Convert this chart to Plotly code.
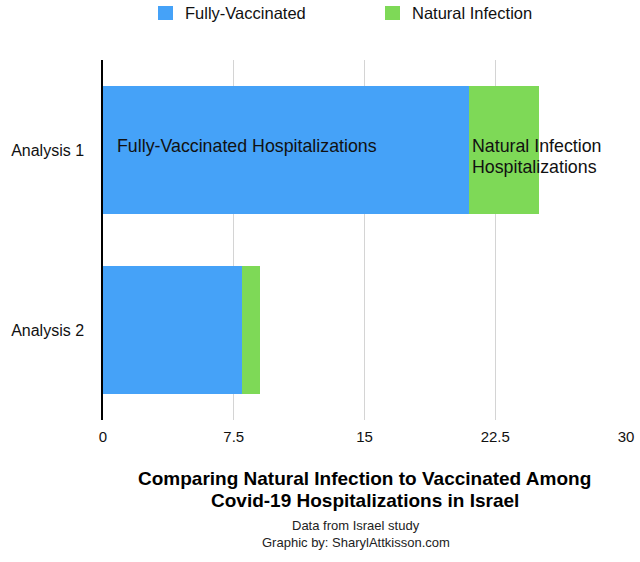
import plotly.graph_objects as go

categories = ["Analysis 1", "Analysis 2"]
fully_vaccinated = [21, 8]
natural_infection = [4, 1]
series_names = ["Fully-Vaccinated", "Natural Infection"]
tick_vals = [0, 7.5, 15, 22.5, 30]
tick_text = ["0", "7.5", "15", "22.5", "30"]

BLUE = "#45a2f8"
GREEN = "#7ed957"
FONT = "Liberation Sans, Arial, Helvetica, sans-serif"

# pixel layout helpers (plot area: x 103..626, y 60..420)
L, R, T, B, W, H = 103, 626, 60, 420, 640, 562
def px(x):
    return (x - L) / (R - L)
def py(y):
    return (B - y) / (B - T)

fig = go.Figure()
fig.add_trace(go.Bar(y=categories, x=fully_vaccinated, orientation="h",
                     name=series_names[0], marker=dict(color=BLUE, line=dict(width=0))))
fig.add_trace(go.Bar(y=categories, x=natural_infection, orientation="h",
                     name=series_names[1], marker=dict(color=GREEN, line=dict(width=0))))

fig.update_layout(
    width=W, height=H,
    barmode="stack", bargap=0.29,
    paper_bgcolor="white", plot_bgcolor="white",
    margin=dict(l=L, r=W - R, t=T, b=H - B, autoexpand=False),
    font=dict(family=FONT, color="#111111", size=14),
    showlegend=False,
    xaxis=dict(range=[0, 30], tickvals=tick_vals, ticktext=tick_text, showgrid=True,
               gridcolor="#d4d4d4", gridwidth=1, zeroline=False, showline=False,
               tickfont=dict(size=15), ticks="", ticklabelstandoff=6, automargin=False),
    yaxis=dict(categoryorder="array", categoryarray=categories, autorange="reversed",
               showgrid=False, zeroline=False, showline=True, linecolor="black", linewidth=1.5,
               tickfont=dict(size=16), ticks="", ticklabelstandoff=14, automargin=False),
)

# custom legend
legend_items = [(series_names[0], BLUE, 158), (series_names[1], GREEN, 385)]
for name, color, x0 in legend_items:
    fig.add_shape(type="rect", xref="paper", yref="paper",
                  x0=px(x0), x1=px(x0 + 15), y0=py(20), y1=py(6),
                  fillcolor=color, line=dict(width=0))
    fig.add_annotation(text=name, xref="paper", yref="paper", x=px(x0 + 25), y=py(13),
                       xanchor="left", yanchor="middle", showarrow=False,
                       font=dict(size=16.5, family=FONT, color="#111111"))

fig.add_annotation(text="Fully-Vaccinated Hospitalizations", xref="x", yref="y",
                   x=0.68, y="Analysis 1", xanchor="left", yanchor="middle", showarrow=False,
                   font=dict(size=17.8, family=FONT, color="#111111"), yshift=4)
fig.add_annotation(text="Natural Infection", xref="paper", yref="paper",
                   x=px(470), y=py(146), xanchor="left", yanchor="middle", showarrow=False,
                   font=dict(size=17.8, family=FONT, color="#111111"))
fig.add_annotation(text="Hospitalizations", xref="paper", yref="paper",
                   x=px(470), y=py(167), xanchor="left", yanchor="middle", showarrow=False,
                   font=dict(size=17.8, family=FONT, color="#111111"))

for txt, y in [("<b>Comparing Natural Infection to Vaccinated Among</b>", 478),
               ("<b>Covid-19 Hospitalizations in Israel</b>", 500)]:
    fig.add_annotation(text=txt, xref="paper", yref="paper", x=px(364.5), y=py(y),
                       xanchor="center", yanchor="middle", showarrow=False,
                       font=dict(size=19, family=FONT, color="black"))
for txt, y in [("Data from Israel study", 525), ("Graphic by: SharylAttkisson.com", 542)]:
    fig.add_annotation(text=txt, xref="paper", yref="paper", x=px(356), y=py(y),
                       xanchor="center", yanchor="middle", showarrow=False,
                       font=dict(size=13, family=FONT, color="#222222"))

fig.write_html("out.html")
